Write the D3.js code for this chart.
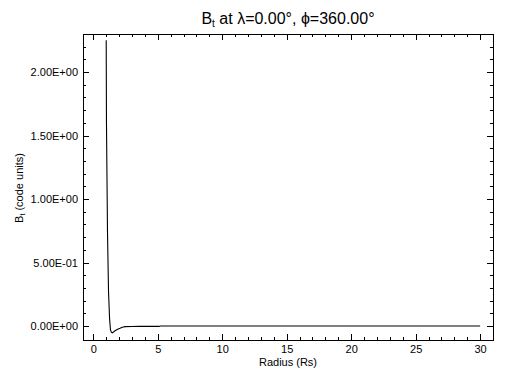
<!DOCTYPE html>
<html>
	<head>
		<title>B_t vs radius</title>
		<script src="https://d3js.org/d3.v7.min.js"></script>
		<style>
			body { margin: 0; background: #fff; }
			text { font-family: "Liberation Sans", Arial, sans-serif; fill: #000; }
			.tick line, rect.frame { shape-rendering: crispEdges; }
		</style>
	</head>
	<body>
		<svg id="chart" width="512" height="384"></svg>

		<script type="text/javascript">
			// values
			var radius = [1.0, 1.02, 1.10, 1.18, 1.26, 1.33, 1.40, 1.47, 1.57, 1.68, 1.85, 2.07, 2.25, 2.46, 3.0, 3.6, 4.5, 5.1, 5.2, 6, 8, 10, 15, 20, 25, 30];
			var bt     = [2.25, 1.60, 0.74, 0.27, 0.06, -0.03, -0.048, -0.053, -0.047, -0.037, -0.027, -0.018, -0.010, -0.005, -0.004, -0.003, -0.003, -0.003, 0.0, 0.0, 0.0, 0.0, 0.0, 0.0, 0.0, 0.0];

			var xTicks = [0, 5, 10, 15, 20, 25, 30];
			var yTicks = [0, 0.5, 1.0, 1.5, 2.0];

			var svg = d3.select('#chart');
			var pLeft = 83, pRight = 493, pTop = 34, pBottom = 340;

			var x = d3.scaleLinear().domain([-0.8, 31.0]).range([pLeft, pRight]);
			var y = d3.scaleLinear().domain([-0.11, 2.30]).range([pBottom, pTop]);

			function sci(v) {
				if (v === 0) return '0.00E+00';
				var e = Math.floor(Math.log10(Math.abs(v)));
				var m = v / Math.pow(10, e);
				var s = e < 0 ? '-' : '+';
				return m.toFixed(2) + 'E' + s + String(Math.abs(e)).padStart(2, '0');
			}

			var xMinor = d3.range(0, 31, 1);
			var yMinor = d3.range(0, 23, 1).map(function(d) { return d / 10; });

			function axisGroup(axis, tr) {
				return svg.append('g').attr('transform', tr).call(axis)
					.call(function(g) { g.select('.domain').remove(); });
			}

			// minor ticks
			axisGroup(d3.axisBottom(x).tickValues(xMinor).tickSize(-3).tickFormat(''), 'translate(0,' + pBottom + ')');
			axisGroup(d3.axisTop(x).tickValues(xMinor).tickSize(-3).tickFormat(''), 'translate(0,' + pTop + ')');
			axisGroup(d3.axisLeft(y).tickValues(yMinor).tickSize(-3).tickFormat(''), 'translate(' + pLeft + ',0)');
			axisGroup(d3.axisRight(y).tickValues(yMinor).tickSize(-3).tickFormat(''), 'translate(' + pRight + ',0)');

			// major ticks
			axisGroup(d3.axisBottom(x).tickValues(xTicks).tickSize(-6).tickPadding(5).tickFormat(d3.format('d')), 'translate(0,' + pBottom + ')');
			axisGroup(d3.axisTop(x).tickValues(xTicks).tickSize(-6).tickFormat(''), 'translate(0,' + pTop + ')');
			axisGroup(d3.axisLeft(y).tickValues(yTicks).tickSize(-6).tickPadding(5).tickFormat(sci), 'translate(' + pLeft + ',0)');
			axisGroup(d3.axisRight(y).tickValues(yTicks).tickSize(-6).tickFormat(''), 'translate(' + pRight + ',0)');

			svg.selectAll('.tick line').attr('stroke', '#000');
			svg.selectAll('.tick text').attr('font-size', 11).attr('font-family', 'Liberation Sans, Arial, sans-serif').attr('fill', '#000');

			svg.append('rect')
				.attr('class', 'frame')
				.attr('x', pLeft).attr('y', pTop)
				.attr('width', pRight - pLeft).attr('height', pBottom - pTop)
				.attr('fill', 'none').attr('stroke', '#000');

			var line = d3.line()
				.x(function(d, i) { return x(radius[i]); })
				.y(function(d) { return y(d); });

			svg.append('path')
				.datum(bt)
				.attr('d', line)
				.attr('fill', 'none')
				.attr('stroke', '#000')
				.attr('stroke-width', 1.1);

			// title
			var title = svg.append('text')
				.attr('x', 288).attr('y', 24)
				.attr('text-anchor', 'middle')
				.attr('font-size', 16);
			title.append('tspan').text('B');
			title.append('tspan').attr('font-size', 10).attr('dy', 3).text('t');
			title.append('tspan').attr('dy', -3).text(' at \u03bb=0.00\u00b0, \u03d5=360.00\u00b0');

			// axis titles
			svg.append('text')
				.attr('x', 288).attr('y', 366)
				.attr('text-anchor', 'middle')
				.attr('font-size', 11)
				.text('Radius (Rs)');

			var yt = svg.append('text')
				.attr('transform', 'translate(23,188) rotate(-90)')
				.attr('text-anchor', 'middle')
				.attr('font-size', 11);
			yt.append('tspan').text('B');
			yt.append('tspan').attr('font-size', 7).attr('dy', 2).text('t');
			yt.append('tspan').attr('dy', -2).text(' (code units)');
		</script>
	</body>
</html>
